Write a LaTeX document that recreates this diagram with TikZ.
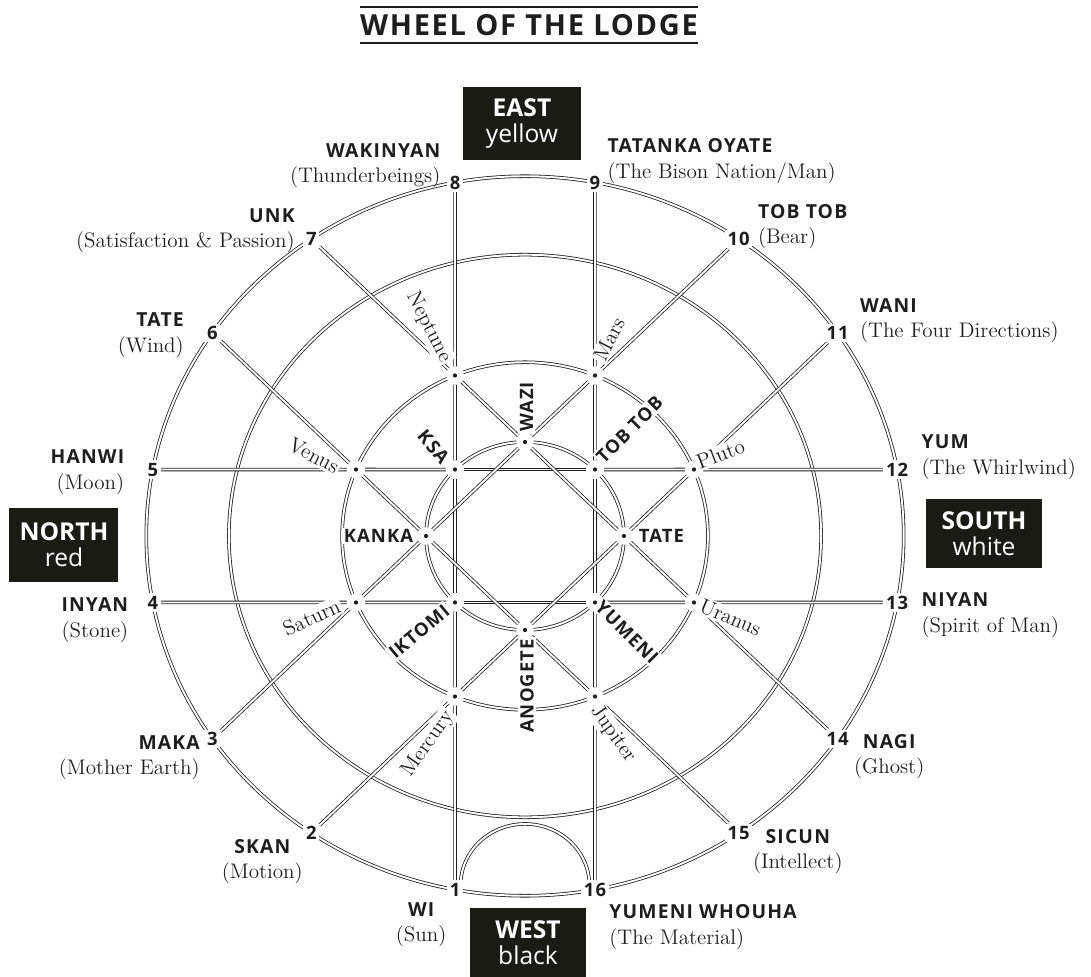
\documentclass[tikz,border=0pt]{standalone}
\usepackage{fontspec}
\usepackage{tikz}
\usetikzlibrary{positioning, backgrounds}
\newfontfamily\lodgefont[LetterSpace=6]{Open Sans}
\newfontfamily\boxfont{Open Sans}
\definecolor{ink}{HTML}{1e1e1e}
\definecolor{boxblack}{HTML}{1b1b16}
\newcommand{\lname}[1]{{\fontsize{11}{14}\lodgefont\bfseries #1}}

\begin{document}
\begin{tikzpicture}[
  font=\fontsize{12}{14.5}\selectfont,
  dbl/.style={draw=ink, line width=0.45pt, double=white, double distance=1.1pt},
  pt/.style={circle, fill=white, inner sep=0pt, minimum size=10pt,
             path picture={\fill[ink] (path picture bounding box.center) circle (1.2pt);}},
  num/.style={fill=white, inner sep=1.5pt, text=ink,
              font=\fontsize{10.5}{12}\lodgefont\bfseries},
  lblL/.style={align=right, text=ink, inner sep=0pt},
  lblR/.style={align=left, text=ink, inner sep=0pt},
  lblC/.style={align=center, text=ink, inner sep=0pt},
  planet/.style={text=ink, fill=white, inner sep=1pt, font=\fontsize{12}{14}\selectfont},
  cname/.style={text=ink, fill=white, inner sep=1pt, font=\fontsize{10.5}{12}\lodgefont\bfseries},
  dirbox/.style={fill=boxblack, text=white, align=center, inner sep=0pt,
                 font=\fontsize{14}{15}\boxfont}
]
\useasboundingbox (-10.5,-8.82) rectangle (11.32,10.72);

% title
\node[text=ink, inner xsep=0pt, inner ysep=4pt,
      font=\fontsize{16.5}{18}\lodgefont\bfseries] (title) at (0.08,10.22) {WHEEL OF THE LODGE};
\draw[ink, line width=1pt] (title.north west) -- (title.north east);
\draw[ink, line width=1pt] (title.south west) -- (title.south east);

% points of the wheel
\begin{scope}[x=1.4cm, y=1.33cm]
  \foreach \i/\ang in {1/259.35, 2/235.65, 3/214.35, 4/190.65, 5/169.35, 6/145.65,
                       7/124.35, 8/100.65, 9/79.35, 10/55.65, 11/34.35, 12/10.65,
                       13/-10.65, 14/-34.35, 15/-55.65, 16/-79.35}
    \node[num] (n\i) at (\ang:5.41) {\i};
  \foreach \nd/\ang in {nep/112.5, mars/67.5, plu/22.5, ura/-22.5,
                        jup/-67.5, mer/247.5, sat/202.5, ven/157.5}
    \node[pt] (\nd) at (\ang:2.613) {};
  \foreach \nd/\ang in {wazi/90, tob/45, tate/0, yum/-45,
                        anog/-90, ikt/225, kanka/180, ksa/135}
    \node[pt] (\nd) at (\ang:1.414) {};
  \coordinate (archR) at (0.92,-5.25);
  \coordinate (archL) at (-0.92,-5.25);
\end{scope}

% rings and spokes
\begin{scope}[on background layer, x=1.4cm, y=1.33cm]
  \foreach \r in {1.414, 2.613, 4.23, 5.41}
    \draw[dbl] (0,0) circle[radius=\r];
  \draw[dbl] (n16.north -| archR) -- (archR)
    arc[start angle=0, end angle=180, radius=0.92] -- (n1.north -| archL);
  \foreach \a/\b in {n8/nep, nep/ksa, ksa/ikt, ikt/mer, mer/n1,
                     n9/mars, mars/tob, tob/yum, yum/jup, jup/n16,
                     n5/ven, ven/ksa, ksa/tob, tob/plu, plu/n12,
                     n4/sat, sat/ikt, ikt/yum, yum/ura, ura/n13,
                     n7/nep, nep/wazi, wazi/tate, tate/ura, ura/n14,
                     n6/ven, ven/kanka, kanka/anog, anog/jup, jup/n15,
                     n10/mars, mars/wazi, wazi/kanka, kanka/sat, sat/n3,
                     n11/plu, plu/tate, tate/anog, anog/mer, mer/n2}
    \draw[dbl] (\a) -- (\b);
\end{scope}

% outer names
\node[lblL, left=0.12cm of n8, yshift=0.33cm] (t8) {\lname{WAKINYAN}\\(Thunderbeings)};
\node[lblL, left=0.16cm of n7, yshift=0.17cm] (t7) {\lname{UNK}\\(Satisfaction \& Passion)};
\node[lblL, left=0.40cm of n6, yshift=-0.04cm] (t6) {\lname{TATE}\\(Wind)};
\node[lblL, left=0.40cm of n5, yshift=-0.05cm] (t5) {\lname{HANWI}\\(Moon)};
\node[lblL, left=0.32cm of n4, yshift=-0.35cm] (t4) {\lname{INYAN}\\(Stone)};
\node[lblL, left=0.08cm of n3, yshift=-0.37cm] (t3) {\lname{MAKA}\\(Mother Earth)};
\node[lblC, below left=-0.08cm and 0cm of n2] (t2) {\lname{SKAN}\\(Motion)};
\node[lblC, below left=0.06cm and 0cm of n1] (t1) {\lname{WI}\\(Sun)};
\node[lblR, right=0.08cm of n9, yshift=0.43cm] (t9) {\lname{TATANKA OYATE}\\(The Bison Nation/Man)};
\node[lblR, right=0.10cm of n10, yshift=0.25cm] (t10) {\lname{TOB TOB}\\(Bear)};
\node[lblR, right=0.16cm of n11, yshift=0.25cm] (t11) {\lname{WANI}\\(The Four Directions)};
\node[lblR, right=0.20cm of n12, yshift=0.25cm] (t12) {\lname{YUM}\\(The Whirlwind)};
\node[lblR, right=0.20cm of n13, yshift=-0.25cm] (t13) {\lname{NIYAN}\\(Spirit of Man)};
\node[lblC, right=0.04cm of n14, yshift=-0.35cm] (t14) {\lname{NAGI}\\(Ghost)};
\node[lblC, right=0cm of n15, yshift=-0.37cm] (t15) {\lname{SICUN}\\(Intellect)};
\node[lblR, below right=0.1cm and 0cm of n16] (t16) {\lname{YUMENI WHOUHA}\\(The Material)};

% planets
\node[planet, rotate=-63] (tNep) at ([shift={(-0.53cm,0.97cm)}]nep) {Neptune};
\node[planet, rotate=63] (tMars) at ([shift={(0.28cm,0.73cm)}]mars) {Mars};
\node[planet, rotate=21] (tPlu) at ([shift={(0.53cm,0.31cm)}]plu) {Pluto};
\node[planet, rotate=-23] (tUra) at ([shift={(0.73cm,-0.30cm)}]ura) {Uranus};
\node[planet, rotate=-55] (tJup) at ([shift={(0.36cm,-0.75cm)}]jup) {Jupiter};
\node[planet, rotate=55] (tMer) at ([shift={(-0.54cm,-0.95cm)}]mer) {Mercury};
\node[planet, rotate=25] (tSat) at ([shift={(-0.89cm,-0.30cm)}]sat) {Saturn};
\node[planet, rotate=-27] (tVen) at ([shift={(-0.84cm,0.28cm)}]ven) {Venus};

% inner names
\node[cname, rotate=-50] (tKsa) at ([shift={(-0.43cm,0.45cm)}]ksa) {KSA};
\node[cname, rotate=90] (tWazi) at ([shift={(0.03cm,0.70cm)}]wazi) {WAZI};
\node[cname, rotate=45] (tTob) at ([shift={(0.69cm,0.80cm)}]tob) {TOB TOB};
\node[cname] (tTate) at ([shift={(0.75cm,0cm)}]tate) {TATE};
\node[cname, rotate=-45] (tYum) at ([shift={(0.64cm,-0.60cm)}]yum) {YUMENI};
\node[cname, rotate=90] (tAnog) at ([shift={(0.04cm,-1.12cm)}]anog) {ANOGETE};
\node[cname, rotate=40] (tIkt) at ([shift={(-0.72cm,-0.58cm)}]ikt) {IKTOMI};
\node[cname] (tKanka) at ([shift={(-0.95cm,0cm)}]kanka) {KANKA};

% directions
\node[dirbox, minimum width=2.36cm, minimum height=1.46cm] (east) at (-0.06,8.25) {\textbf{EAST}\\yellow};
\node[dirbox, minimum width=2.18cm, minimum height=1.48cm] (north) at (-9.22,-0.18) {\textbf{NORTH}\\red};
\node[dirbox, minimum width=2.32cm, minimum height=1.38cm] (south) at (9.18,0.05) {\textbf{SOUTH}\\white};
\node[dirbox, minimum width=2.32cm, minimum height=1.38cm] (west) at (0.06,-8.13) {\textbf{WEST}\\black};
\end{tikzpicture}
\end{document}
